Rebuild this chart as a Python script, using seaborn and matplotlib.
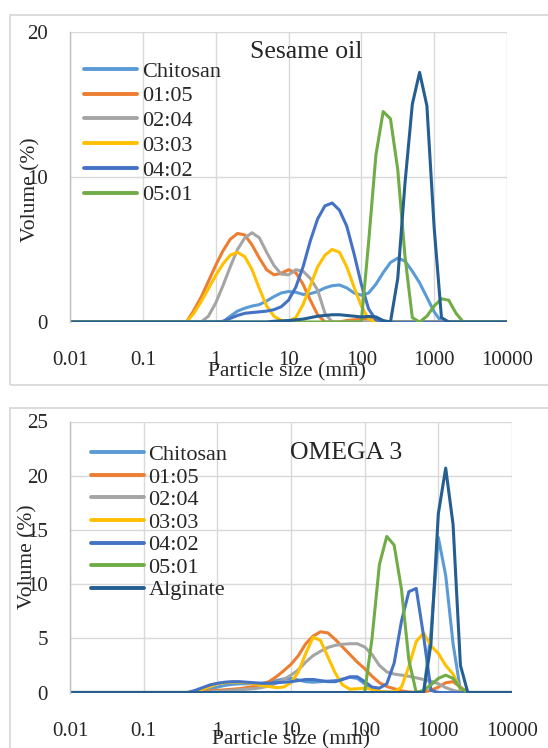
# -*- coding: utf-8 -*-
# %% Import Libraries

import numpy as np
import pandas as pd
import matplotlib.pyplot as plt
import seaborn as sns
from matplotlib.patches import Rectangle
from matplotlib.ticker import FixedLocator, FixedFormatter

# %% Data (volume % per size class)

# size classes: 0.01, then 10^-0.5 ... 10^3.5 in 0.1 decade steps, then 10000
sizes = np.concatenate([[0.01], np.round(10 ** np.arange(-0.5, 3.51, 0.1), 4), [10000]])

samples = ["Chitosan", "01:05", "02:04", "03:03", "04:02", "05:01", "Alginate"]
colors = ["#5B9BD5", "#ED7D31", "#A5A5A5", "#FFC000", "#4472C4", "#70AD47", "#255E91"]

# Sesame oil
sesame_chitosan = [0, 0, 0, 0, 0, 0, 0, 0, 0.4, 0.75, 0.95, 1.1, 1.2, 1.45, 1.75, 2.0, 2.1, 2.05, 1.9, 1.95,
                   2.1, 2.35, 2.5, 2.55, 2.35, 2.0, 1.85, 2.0, 2.6, 3.4, 4.1, 4.4, 4.2, 3.5, 2.7, 1.7, 0.7,
                   0, 0, 0, 0, 0, 0]
sesame_0105 = [0, 0, 0, 0.8, 1.7, 2.8, 3.9, 4.9, 5.7, 6.1, 6.0, 5.3, 4.4, 3.6, 3.25, 3.35, 3.6, 3.4, 2.6,
               1.5, 0.5, 0, 0, 0, 0.1, 0.15, 0.2, 0.2, 0.1, 0, 0, 0, 0, 0, 0, 0, 0, 0, 0, 0, 0, 0, 0]
sesame_0204 = [0, 0, 0, 0, 0, 0.4, 1.3, 2.5, 3.8, 5.0, 5.8, 6.15, 5.8, 4.8, 3.9, 3.3, 3.25, 3.6, 3.5, 3.0,
               2.2, 0.6, 0, 0, 0, 0, 0, 0, 0, 0, 0, 0, 0, 0, 0, 0, 0, 0, 0, 0, 0, 0, 0]
sesame_0303 = [0, 0, 0, 0.6, 1.4, 2.3, 3.2, 4.0, 4.6, 4.8, 4.5, 3.6, 2.3, 1.1, 0.4, 0.1, 0.05, 0.3, 1.2,
               2.5, 3.8, 4.6, 5.0, 4.8, 3.8, 2.4, 1.1, 0.2, 0, 0, 0, 0, 0, 0, 0, 0, 0, 0, 0, 0, 0, 0, 0]
sesame_0402 = [0, 0, 0, 0, 0, 0, 0, 0.05, 0.25, 0.45, 0.6, 0.65, 0.7, 0.75, 0.85, 1.05, 1.5, 2.4, 3.8,
               5.6, 7.1, 8.0, 8.2, 7.7, 6.6, 4.7, 2.6, 0.9, 0.15, 0, 0, 0, 0, 0, 0, 0, 0, 0, 0, 0, 0, 0, 0]
sesame_0501 = [0, 0, 0, 0, 0, 0, 0, 0, 0, 0, 0, 0, 0, 0, 0, 0, 0, 0, 0, 0, 0, 0, 0, 0, 0, 0, 0, 5.5, 11.5,
               14.5, 14.0, 10.5, 4.5, 0.3, 0, 0.4, 1.1, 1.6, 1.5, 0.6, 0, 0, 0]
sesame_alginate = [0, 0, 0, 0, 0, 0, 0, 0, 0, 0, 0, 0, 0, 0, 0.05, 0.08, 0.1, 0.15, 0.2, 0.3, 0.4, 0.45,
                   0.5, 0.5, 0.45, 0.4, 0.35, 0.38, 0.35, 0.1, 0, 3.0, 9.6, 15.0, 17.2, 14.9, 6.5, 0.3,
                   0, 0, 0, 0, 0]

# OMEGA 3
omega_chitosan = [0, 0, 0, 0, 0.1, 0.3, 0.5, 0.65, 0.75, 0.8, 0.8, 0.8, 0.85, 0.95, 1.1, 1.25, 1.3, 1.15,
                  1.0, 0.95, 1.0, 1.05, 1.1, 1.25, 1.4, 1.3, 0.8, 0.3, 0.1, 0.05, 0, 0, 0, 0, 0.05, 5.5,
                  14.3, 10.8, 4.5, 0.2, 0, 0, 0]
omega_0105 = [0, 0, 0, 0.05, 0.1, 0.15, 0.2, 0.25, 0.3, 0.35, 0.45, 0.55, 0.75, 1.0, 1.45, 2.0, 2.6, 3.4,
              4.5, 5.2, 5.6, 5.5, 4.9, 4.2, 3.5, 2.8, 2.2, 1.5, 0.9, 0.55, 0.35, 0.15, 0.05, 0, 0.05,
              0.2, 0.5, 0.9, 1.0, 0.5, 0, 0, 0]
omega_0204 = [0, 0, 0, 0, 0, 0.05, 0.1, 0.15, 0.2, 0.25, 0.3, 0.35, 0.45, 0.6, 0.85, 1.2, 1.6, 2.1, 2.8,
              3.4, 3.8, 4.15, 4.35, 4.45, 4.5, 4.5, 4.2, 3.5, 2.5, 1.9, 1.7, 1.6, 1.5, 1.35, 1.2, 1.05,
              0.8, 0.45, 0.2, 0.05, 0, 0, 0]
omega_0303 = [0, 0, 0, 0.1, 0.3, 0.55, 0.8, 0.9, 0.95, 0.95, 0.9, 0.8, 0.65, 0.55, 0.45, 0.5, 0.9, 1.9,
              3.6, 5.1, 4.8, 3.3, 1.8, 0.7, 0.3, 0.35, 0.4, 0.3, 0.1, 0.05, 0.05, 0.5, 2.4, 4.7, 5.5,
              4.3, 3.6, 2.5, 1.7, 0.3, 0, 0, 0]
omega_0402 = [0, 0, 0, 0.2, 0.45, 0.7, 0.85, 0.95, 1.0, 1.0, 0.95, 0.9, 0.85, 0.85, 0.9, 0.95, 1.0, 1.1,
              1.2, 1.2, 1.1, 1.0, 1.0, 1.2, 1.45, 1.45, 1.0, 0.5, 0.4, 0.8, 2.7, 6.6, 9.3, 9.6, 5.2, 0.2,
              0, 0, 0, 0, 0, 0, 0]
omega_0501 = [0, 0, 0, 0, 0, 0, 0, 0, 0, 0, 0, 0, 0, 0, 0, 0, 0, 0, 0, 0, 0, 0, 0, 0, 0, 0, 0, 5.0, 11.8,
              14.4, 13.6, 9.5, 3.0, 0, 0.2, 0.7, 1.3, 1.6, 1.3, 0.4, 0, 0, 0]
omega_alginate = [0, 0, 0, 0, 0, 0, 0, 0, 0, 0, 0, 0, 0, 0, 0, 0, 0, 0, 0, 0, 0, 0, 0, 0, 0, 0, 0, 0, 0,
                  0, 0, 0, 0, 0, 0, 4.5, 16.5, 20.7, 15.5, 2.5, 0, 0, 0]

sesame = [sesame_chitosan, sesame_0105, sesame_0204, sesame_0303, sesame_0402, sesame_0501, sesame_alginate]
omega = [omega_chitosan, omega_0105, omega_0204, omega_0303, omega_0402, omega_0501, omega_alginate]

xticks = [0.01, 0.1, 1, 10, 100, 1000, 10000]
xtick_labels = ["0.01", "0.1", "1", "10", "100", "1000", "10000"]


def to_long(series):
    frames = []
    for name, vals in zip(samples, series):
        frames.append(pd.DataFrame({"size": sizes, "volume": vals, "sample": name}))
    return pd.concat(frames, ignore_index=True)


# %% Figure

sns.set_theme(style="white")
plt.rcParams["font.family"] = ["Liberation Serif", "DejaVu Serif"]
plt.rcParams["font.size"] = 15

fig = plt.figure(figsize=(5.48, 7.48), dpi=100)

# grey chart frames like the Excel export
fig.add_artist(Rectangle((10 / 548, 363 / 748), 1.0, 370 / 748, transform=fig.transFigure,
                         fill=False, edgecolor="#d9d9d9", lw=1.3))
fig.add_artist(Rectangle((10 / 548, -0.05), 1.0, 340 / 748 + 0.05, transform=fig.transFigure,
                         fill=False, edgecolor="#d9d9d9", lw=1.3))

ax1 = fig.add_axes([70 / 548, 1 - 322 / 748, 437 / 548, 290.3 / 748])
ax2 = fig.add_axes([70 / 548, 1 - 692.5 / 748, 442 / 548, 271 / 748])

panels = [
    (ax1, sesame, "Sesame oil", [0, 10, 20], 20, (0.54, 0.93), 6, (0.032, 0.899), 0.19),
    (ax2, omega, "OMEGA 3", [0, 5, 10, 15, 20, 25], 25, (0.624, 0.885), 7, (0.047, 0.915), 0.09),
]

for ax, series, title, yticks, ymax, tpos, nleg, lpos, lspace in panels:
    df = to_long(series)
    sns.lineplot(data=df, x="size", y="volume", hue="sample", hue_order=samples,
                 palette=colors, estimator=None, sort=False, lw=2.2, ax=ax)
    ax.set_xscale("log")
    ax.set_xlim(0.01, 10000)
    ax.set_ylim(0, ymax)
    ax.xaxis.set_major_locator(FixedLocator(xticks))
    ax.xaxis.set_major_formatter(FixedFormatter(xtick_labels))
    ax.xaxis.set_minor_locator(FixedLocator([]))
    ax.set_yticks(yticks)
    ax.set_yticklabels([str(t) for t in yticks])
    ax.tick_params(axis="x", length=0, pad=21, labelsize=15)
    ax.tick_params(axis="y", length=0, pad=16, labelsize=15)
    ax.grid(True, color="#d9d9d9", lw=1.0)
    ax.set_axisbelow(True)
    for side in ["top", "right", "bottom"]:
        ax.spines[side].set_visible(False)
    ax.spines["left"].set_color("#bfbfbf")
    ax.spines["left"].set_linewidth(1.0)

    ax.set_xlabel("Particle size (mm)", fontsize=15.5, va="center")
    ax.set_ylabel("Volume (%)", fontsize=15.5, va="center")
    ax.text(tpos[0], tpos[1], title, transform=ax.transAxes, ha="center", va="center", fontsize=18.5)

    handles, labels = ax.get_legend_handles_labels()
    leg = ax.legend(handles[:nleg], labels[:nleg], loc="upper left", bbox_to_anchor=lpos,
                    frameon=False, fontsize=16, handlelength=2.4, handletextpad=0.2,
                    labelspacing=lspace, borderpad=0, borderaxespad=0)
    for line in leg.get_lines():
        line.set_linewidth(2.8)

ax1.xaxis.set_label_coords(0.4966, -0.172)
ax1.yaxis.set_label_coords(-0.089, 0.455)
ax2.xaxis.set_label_coords(0.5, -0.175)
ax2.yaxis.set_label_coords(-0.095, 0.50)

fig.savefig("out.png", dpi=100)
